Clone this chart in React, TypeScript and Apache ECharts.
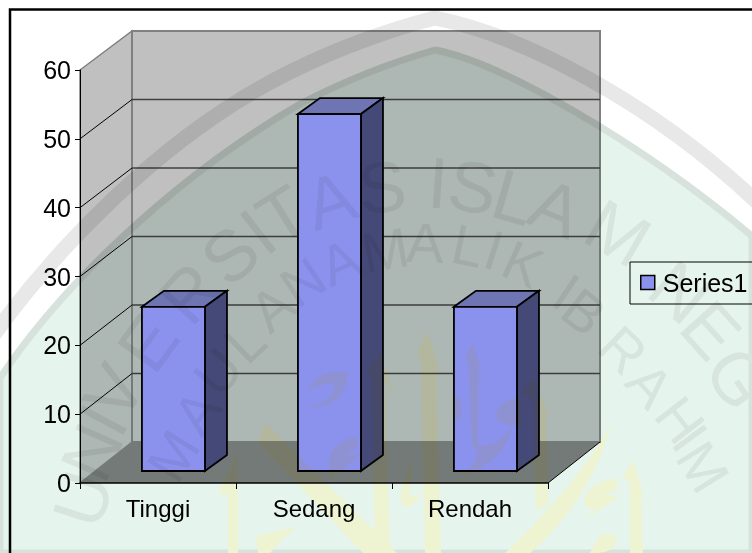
import React, { useEffect, useRef } from "react";
import * as echarts from "echarts";

const categories = ["Tinggi", "Sedang", "Rendah"];
const seriesName = "Series1";
const seriesValues = [24, 52, 24];
const yTicks = [0, 10, 20, 30, 40, 50, 60];

const outerLetters: [string, number, number, number][] = [
  ["U", 83, 499, 72], ["N", 92, 452, 66], ["I", 103, 420, 62], ["V", 114, 392, 60], ["E", 148, 343, 54],
  ["R", 190, 293, 48], ["S", 230, 255, 42], ["I", 258, 232, 38], ["T", 283, 215, 32], ["A", 330, 200, 18],
  ["S", 382, 187, 6], ["I", 438, 183, -4], ["S", 473, 187, -10], ["L", 514, 197, -16], ["A", 556, 208, -22],
  ["M", 618, 233, -30], ["N", 680, 292, -40], ["E", 711, 330, -48], ["G", 738, 378, -55],
];
const innerLetters: [string, number, number, number][] = [
  ["M", 173, 456, 58], ["A", 197, 412, 54], ["U", 218, 372, 50], ["L", 245, 342, 44], ["A", 272, 308, 40],
  ["N", 303, 282, 34], ["A", 340, 262, 24], ["M", 385, 250, 10], ["A", 425, 243, -2], ["L", 468, 246, -12],
  ["I", 494, 250, -18], ["K", 523, 264, -24], ["I", 566, 292, -34], ["B", 584, 312, -38], ["R", 623, 350, -44],
  ["A", 650, 385, -48], ["H", 680, 420, -52], ["I", 690, 438, -54], ["M", 703, 467, -58],
];

const GREEN = "M0 378 C60 288 170 180 300 104 C350 78 400 60 435 50 C500 62 640 142 752 236 L752 553 L0 553 Z";
const BAND = "M-10 340 C50 256 160 136 290 72 C340 47 395 28 435 18 C520 35 650 100 760 205";
const CALLIG = [
  "M428 332 L417 352 L421 360 L425 553 L441 553 L436 368 L441 375 Z",
  "M473 343 L465 358 L468 362 L472 445 L478 452 L479 365 L487 385 Z",
  "M513 427 C505 450 495 465 460 477 C480 462 476 455 478 445 L486 445 C495 445 505 435 513 427 Z",
  "M380 352 L368 370 L372 378 L375 553 L390 553 L385 380 L395 397 Z",
  "M533 378 L522 392 L533 400 L536 510 L548 505 L546 405 L552 423 Z",
  "M611 423 C590 465 545 515 505 553 L530 553 C570 520 600 470 611 423 Z",
  "M265 423 L258 442 L363 553 L397 553 Z",
  "M238 453 L218 493 L228 495 L228 553 L238 553 L238 490 Z",
  "M633 460 L623 477 L630 483 L630 553 L643 553 L641 490 L648 510 Z",
  "M308 392 C313 373 333 370 348 372 C347 397 333 407 307 408 C327 403 337 393 333 385 C328 382 313 387 308 392 Z",
  "M357 437 C335 440 325 455 330 470 L330 480 L363 453 L345 456 L357 448 Z",
  "M520 397 C500 400 492 412 498 420 C505 426 510 425 522 426 L521 415 Z",
  "M413 460 C405 475 398 495 402 505 C408 510 418 505 422 490 C415 500 408 498 410 485 Z",
  "M617 478 C595 480 582 495 585 505 C590 513 598 508 600 505 L583 522 L618 497 L606 495 L617 490 Z",
  "M455 393 C450 410 452 420 460 420 C463 410 462 400 455 393 Z",
  "M296 527 L256 536 L258 553 L270 553 L282 540 Z",
  "M600 535 C612 532 620 535 615 545 C610 553 600 553 590 553 Z",
];

const shapes: [string, string][] = [["wmGreen", GREEN], ["wmBand", BAND], ...CALLIG.map((d, i) => [`wmCal${i}`, d] as [string, string])];
shapes.forEach(([n, d]) => echarts.graphic.registerShape(n, echarts.graphic.extendPath(d, {})));

const DX = 52;
const DY = 41;
const BAR_DX = 22;
const BAR_DY = 16;

export default function App() {
  const ref = useRef<HTMLDivElement>(null);
  const wmRef = useRef<HTMLDivElement>(null);
  useEffect(() => {
    document.body.style.margin = "0";
    const chart = echarts.init(ref.current!, undefined, { renderer: "svg" });
    const wm = echarts.init(wmRef.current!, undefined, { renderer: "svg" });
    const letter = (fontSize: number, fill: string) => ([c, x, y, r]: [string, number, number, number]) => ({
      type: "text", x, y, rotation: (r * Math.PI) / 180, z: 10,
      style: { text: c, fontFamily: "Liberation Sans", fontSize, fill, align: "center", verticalAlign: "middle" },
    });
    wm.setOption({
      animation: false,
      backgroundColor: "transparent",
      graphic: [
        { type: "wmGreen", z: 1, style: { fill: "#e6f4ee", stroke: "#d8e2dc", lineWidth: 7 } },
        { type: "wmBand", z: 1, style: { fill: "none", stroke: "#e8e8e8", lineWidth: 15 } },
        ...CALLIG.map((_, i) => ({ type: `wmCal${i}`, z: 2, style: { fill: "#eef3d2" } })),
        ...outerLetters.map(letter(72, "#d8e4de")),
        ...innerLetters.map(letter(56, "#d8e4de")),
      ],
    });
    chart.setOption({
      animation: false,
      backgroundColor: "#ffffff",
      textStyle: { fontFamily: "Liberation Sans" },
      grid: { left: 80, right: 204, top: 70, bottom: 70 },
      xAxis: {
        type: "category", data: categories, z: 10,
        axisLine: { show: true, lineStyle: { color: "#000", width: 1.5 } },
        axisTick: { show: true, length: 6, alignWithLabel: false, lineStyle: { color: "#000" } },
        axisLabel: { color: "#000", fontSize: 24, margin: 13 },
        splitLine: { show: false },
      },
      yAxis: {
        type: "value", min: 0, max: 60, interval: 10, z: 10,
        axisLine: { show: true, lineStyle: { color: "#000", width: 1 } },
        axisTick: { show: true, length: 5, lineStyle: { color: "#000" } },
        axisLabel: { color: "#000", fontSize: 25, margin: 9 },
        splitLine: { show: false },
      },
      legend: {
        left: 630, top: 262, orient: "vertical", padding: [8, 24, 9, 10], itemWidth: 14, itemHeight: 14, itemGap: 0,
        borderColor: "#000", borderWidth: 1, backgroundColor: "transparent",
        textStyle: { color: "#000", fontSize: 25, fontFamily: "Liberation Sans", padding: [0, 0, 0, 3] },
        data: [{ name: seriesName, icon: "rect", itemStyle: { color: "#9999ff", borderColor: "#000", borderWidth: 1.5 } }],
      },
      series: [
        {
          type: "custom", name: "walls", silent: true, z: 1, coordinateSystem: "cartesian2d",
          data: [[0, 0]], encode: { x: 0, y: 1 },
          renderItem: (params: any, api: any) => {
            const g = params.coordSys;
            const L = g.x, R = g.x + g.width, T = g.y, B = g.y + g.height;
            const children: any[] = [
              { type: "polygon", shape: { points: [[L, T], [L + DX, T - DY + 2], [L + DX, B - DY], [L, B]] }, style: { fill: "#c0c0c0", stroke: "#808080", lineWidth: 1.5 } },
              { type: "rect", shape: { x: L + DX, y: T - DY + 2, width: R - L, height: g.height - 2 }, style: { fill: "#c0c0c0", stroke: "#808080", lineWidth: 2 } },
              { type: "polygon", shape: { points: [[L, B], [L + DX, B - DY], [R + DX, B - DY], [R, B]] }, style: { fill: "#808080" } },
              { type: "line", shape: { x1: R, y1: B, x2: R + DX, y2: B - DY }, style: { stroke: "#000", lineWidth: 1 } },
            ];
            yTicks.forEach((t, i) => {
              const y = api.coord([0, t])[1];
              const by = y - DY + (2 * i) / 6;
              if (t > 0 && t < 60) {
                children.push({ type: "line", shape: { x1: L, y1: y, x2: L + DX, y2: by }, style: { stroke: "#000", lineWidth: 1 } });
                children.push({ type: "line", shape: { x1: L + DX, y1: by, x2: R + DX, y2: by }, style: { stroke: "#404040", lineWidth: 1.5 } });
              }
            });
            return { type: "group", children };
          },
        },
        {
          type: "custom", name: seriesName, z: 3, coordinateSystem: "cartesian2d", color: "#9999ff",
          itemStyle: { color: "#9999ff" },
          data: seriesValues.map((v, i) => [i, v]), encode: { x: 0, y: 1 },
          renderItem: (params: any, api: any) => {
            const i = api.value(0);
            const top = api.coord([i, api.value(1)]);
            const base = api.coord([i, 0]);
            const band = api.size([1, 0])[0];
            const l = base[0] - band * 0.103;
            const r = l + band * 0.404;
            const b = base[1] - 12;
            const t = top[1] - 11;
            const st = { stroke: "#000", lineWidth: 1.8, lineJoin: "miter" };
            return {
              type: "group",
              children: [
                { type: "polygon", shape: { points: [[l, t], [l + BAR_DX, t - BAR_DY], [r + BAR_DX, t - BAR_DY], [r, t]] }, style: { fill: "#7a7abf", ...st } },
                { type: "polygon", shape: { points: [[r, t], [r + BAR_DX, t - BAR_DY], [r + BAR_DX, b - BAR_DY], [r, b]] }, style: { fill: "#4c4c7f", ...st } },
                { type: "rect", shape: { x: l, y: t, width: r - l, height: b - t }, style: { fill: "#9999ff", ...st } },
              ],
            };
          },
        },
      ],
      graphic: [
        { type: "polyline", z: 900, shape: { points: [[10, 560], [10, 9.5], [760, 9.5]] }, style: { stroke: "#000", lineWidth: 2.5, fill: "none" } },
      ],
    });
    return () => { chart.dispose(); wm.dispose(); };
  }, []);
  return (
    <div style={{ position: "relative", width: 752, height: 553, isolation: "isolate", overflow: "hidden" }}>
      <div ref={ref} style={{ position: "absolute", left: 0, top: 0, width: 752, height: 553 }} />
      <div ref={wmRef} style={{ position: "absolute", left: 0, top: 0, width: 752, height: 553, mixBlendMode: "multiply", pointerEvents: "none" }} />
    </div>
  );
}
